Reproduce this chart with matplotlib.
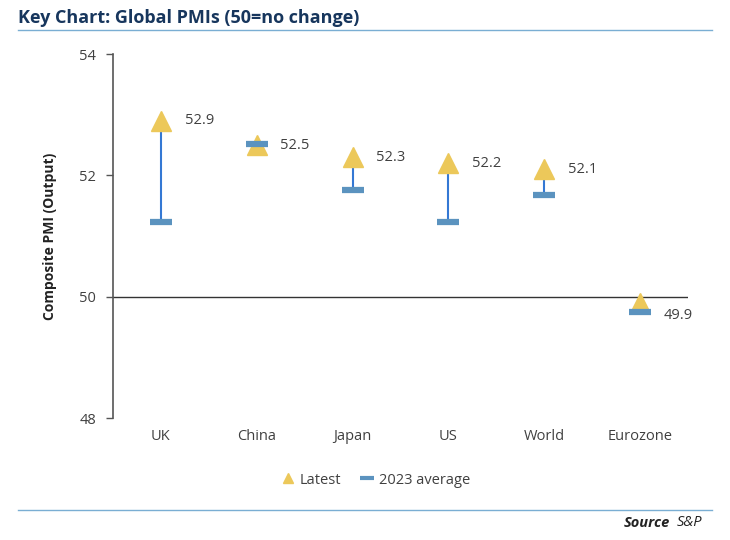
import matplotlib
matplotlib.use("Agg")
import matplotlib.pyplot as plt
from matplotlib.lines import Line2D

plt.rcParams['font.family'] = ['Open Sans', 'DejaVu Sans']

# data
regions = ["UK", "China", "Japan", "US", "World", "Eurozone"]
latest = [52.9, 52.5, 52.3, 52.2, 52.1, 49.9]
avg_2023 = [51.23, 52.52, 51.76, 51.23, 51.68, 49.75]
yticks = [48, 50, 52, 54]

gold = "#ecc85a"
steel = "#5b93bf"
link_blue = "#3478d4"
navy = "#17365d"
rule_blue = "#7aaed3"
text_grey = "#404040"

fig = plt.figure(figsize=(7.3, 5.4), dpi=100)
ax = fig.add_axes([0.1548, 0.2259, 0.7877, 0.6741])

x = list(range(len(regions)))

# line from 2023 average up to the latest reading
ax.vlines(x, avg_2023, latest, color=link_blue, lw=1.5, zorder=2)

ax.plot(x, latest, ls="none", marker="^", ms=14, color=gold, zorder=3)
ax.plot(x, avg_2023, ls="none", marker="_", ms=16, mew=4.5, color=steel, zorder=4)

# value labels to the right of the triangles
for i, v in enumerate(latest):
    dy = -9 if v < 50 else 0
    ax.annotate(f"{v:.1f}", (i, v), xytext=(17, dy), textcoords="offset points",
                va="center", ha="left", fontsize=10.5, color=text_grey)

ax.axhline(50, color="#333333", lw=1.0, zorder=1)

ax.set_xlim(-0.5, 5.5)
ax.set_ylim(48, 54)
ax.set_yticks(yticks)
ax.set_xticks(x)
ax.set_xticklabels(regions)
ax.tick_params(axis="x", length=0, pad=8, labelsize=10.5, labelcolor=text_grey)
ax.tick_params(axis="y", direction="out", length=5, width=1, color="#555555",
               labelsize=10.5, labelcolor=text_grey, pad=7)
for side in ["top", "right", "bottom"]:
    ax.spines[side].set_visible(False)
ax.spines["left"].set_color("#555555")
ax.spines["left"].set_linewidth(1.2)

ax.set_ylabel("Composite PMI (Output)", fontsize=10, fontweight="bold",
              color="#222222", labelpad=16)

handles = [
    Line2D([], [], ls="none", marker="^", ms=7, color=gold, label="Latest"),
    Line2D([], [], ls="none", marker="_", ms=10, mew=3, color=steel, label="2023 average"),
]
fig.legend(handles=handles, loc="center", bbox_to_anchor=(376 / 730, 1 - 480 / 540),
           ncol=2, frameon=False, fontsize=10.5, handlelength=0.8, handletextpad=0.4,
           columnspacing=1.4, labelcolor=text_grey)

# title and rules
fig.text(18 / 730, 1 - 18 / 540, "Key Chart: Global PMIs (50=no change)", fontsize=13,
         fontweight="bold", color=navy, va="center", ha="left")
fig.add_artist(Line2D([18 / 730, 712 / 730], [1 - 30 / 540] * 2, color=rule_blue, lw=1))
fig.add_artist(Line2D([18 / 730, 712 / 730], [1 - 510 / 540] * 2, color=rule_blue, lw=1))

fig.text(702 / 730, 1 - 523 / 540, "S&P", fontsize=10.5, style="italic",
         color="#222222", ha="right", va="center")
fig.text(670 / 730, 1 - 523 / 540, "Source", fontsize=10.5, style="italic",
         fontweight="bold", color="#222222", ha="right", va="center")

fig.savefig("out.png", dpi=100)
